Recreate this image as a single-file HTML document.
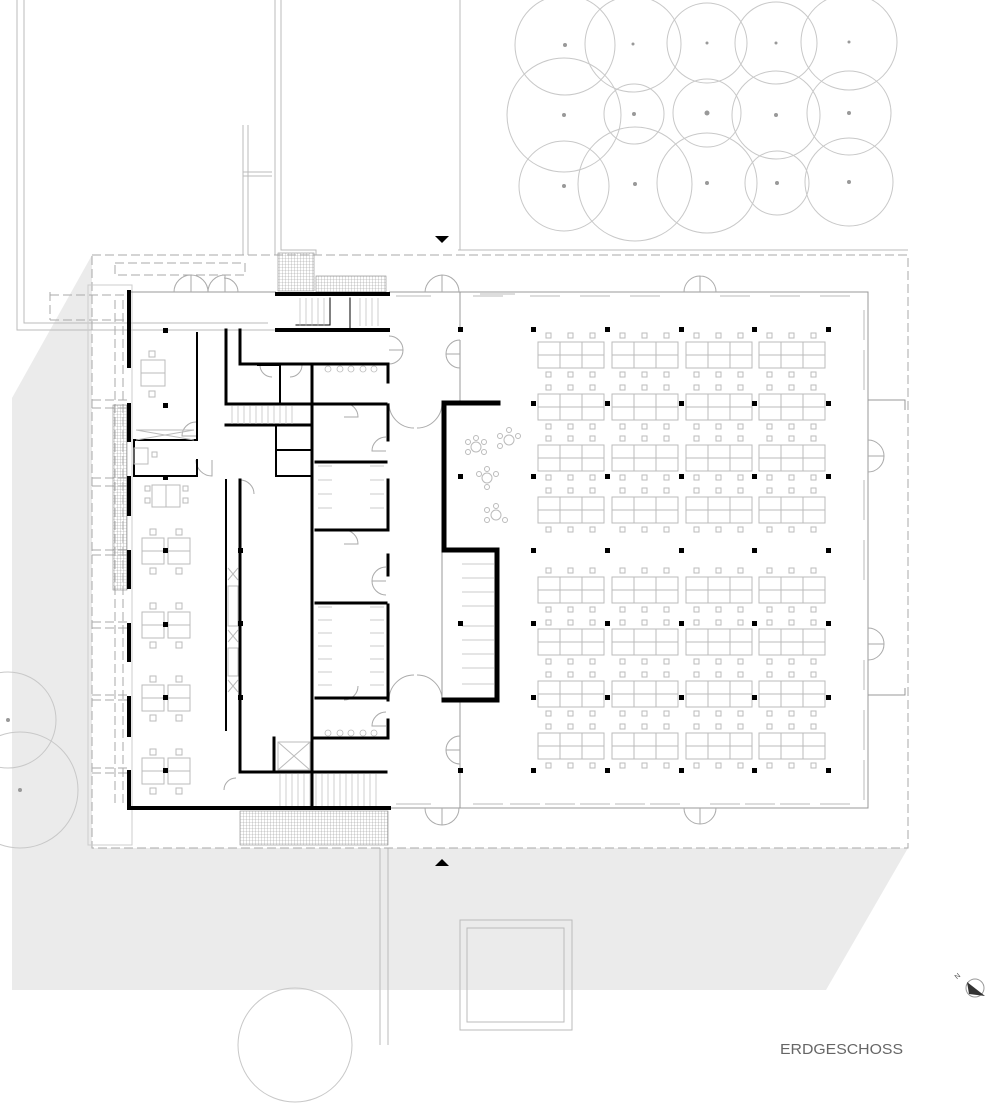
<!DOCTYPE html>
<html><head><meta charset="utf-8"><style>
html,body{margin:0;padding:0;background:#fff}
svg{display:block}
</style></head><body>
<svg width="1000" height="1116" viewBox="0 0 1000 1116" xmlns="http://www.w3.org/2000/svg">
<defs>
<pattern id="hatch" width="3" height="3" patternUnits="userSpaceOnUse">
<path d="M0 0H3M0 0V3" stroke="#999" stroke-width="0.6"/>
</pattern>
<g id="tbl">
<rect x="0" y="0" width="66" height="26" fill="none" stroke="#bbb" stroke-width="1"/>
<path d="M22 0V26M44 0V26M0 13H66" stroke="#bbb" stroke-width="1"/>
<rect x="8" y="-9" width="5" height="5" fill="none" stroke="#bbb"/>
<rect x="30" y="-9" width="5" height="5" fill="none" stroke="#bbb"/>
<rect x="52" y="-9" width="5" height="5" fill="none" stroke="#bbb"/>
<rect x="8" y="30" width="5" height="5" fill="none" stroke="#bbb"/>
<rect x="30" y="30" width="5" height="5" fill="none" stroke="#bbb"/>
<rect x="52" y="30" width="5" height="5" fill="none" stroke="#bbb"/>
</g>
<g id="row">
<use href="#tbl" x="0"/><use href="#tbl" x="74"/><use href="#tbl" x="148"/><use href="#tbl" x="221"/>
</g>
<g id="desk">
<rect x="0" y="0" width="22" height="26" fill="none" stroke="#bbb"/>
<rect x="26" y="0" width="22" height="26" fill="none" stroke="#bbb"/>
<path d="M0 13H22M26 13H48" stroke="#bbb"/>
<rect x="8" y="-9" width="6" height="6" fill="none" stroke="#bbb"/>
<rect x="34" y="-9" width="6" height="6" fill="none" stroke="#bbb"/>
<rect x="8" y="30" width="6" height="6" fill="none" stroke="#bbb"/>
<rect x="34" y="30" width="6" height="6" fill="none" stroke="#bbb"/>
<rect x="21" y="10" width="5" height="5" fill="#000"/>
</g>
</defs>

<polygon points="12,398 92,255 92,848 908,848 826,990 12,990" fill="#ebebeb"/>
<rect x="92" y="255" width="816" height="593" fill="#fff"/>

<g fill="none" stroke="#bbb" stroke-width="1">
<path d="M17 0V330H275M24 0V323H268M275 0V255M281 0V250H316V255"/>
<path d="M460 0V250M458 250H908"/>
<path d="M243 125V255M248 125V255M243 172H272M243 176H272"/>
<path d="M380 848V1045M388 848V1045"/>
<rect x="460" y="920" width="112" height="110"/>
<rect x="467" y="928" width="97" height="94"/>
</g>

<g fill="none" stroke="#c8c8c8" stroke-width="1">
<circle cx="565" cy="45" r="50"/><circle cx="633" cy="44" r="48"/><circle cx="707" cy="43" r="40"/><circle cx="776" cy="43" r="41"/><circle cx="849" cy="42" r="48"/>
<circle cx="564" cy="115" r="57"/><circle cx="634" cy="114" r="30"/><circle cx="707" cy="113" r="34"/><circle cx="776" cy="115" r="44"/><circle cx="849" cy="113" r="42"/>
<circle cx="564" cy="186" r="45"/><circle cx="635" cy="184" r="57"/><circle cx="707" cy="183" r="50"/><circle cx="777" cy="183" r="32"/><circle cx="849" cy="182" r="44"/>
<circle cx="8" cy="720" r="48"/><circle cx="20" cy="790" r="58"/><circle cx="295" cy="1045" r="57"/>
</g>
<g fill="#999">
<circle cx="565" cy="45" r="2"/><circle cx="633" cy="44" r="1.5"/><circle cx="707" cy="43" r="1.5"/><circle cx="776" cy="43" r="1.5"/><circle cx="849" cy="42" r="1.5"/>
<circle cx="564" cy="115" r="2"/><circle cx="634" cy="114" r="2"/><circle cx="707" cy="113" r="2.5"/><circle cx="776" cy="115" r="2"/><circle cx="849" cy="113" r="2"/>
<circle cx="564" cy="186" r="2"/><circle cx="635" cy="184" r="2"/><circle cx="707" cy="183" r="2"/><circle cx="777" cy="183" r="2"/><circle cx="849" cy="182" r="2"/>
<circle cx="8" cy="720" r="2"/><circle cx="20" cy="790" r="2"/>
</g>

<g fill="none" stroke="#aaa" stroke-width="1" stroke-dasharray="9,4">
<rect x="92" y="255" width="816" height="593"/>
<path d="M115 263H245V275H115Z"/>
<path d="M50 295H129M50 320H129M50 292V320"/>
<path d="M92 400H129M92 408H129M92 478H129M92 486H129M92 550H129M92 555H129M92 622H129M92 628H129M92 695H129M92 700H129M92 768H129M92 773H129"/>
<path d="M115 300V805M123 300V805"/>
</g>
<rect x="88" y="285" width="44" height="560" fill="none" stroke="#ccc"/>

<g stroke="#888" stroke-width="0.6">
<rect x="278" y="253" width="36" height="38" fill="url(#hatch)"/>
<rect x="316" y="276" width="70" height="16" fill="url(#hatch)"/>
<rect x="240" y="811" width="148" height="34" fill="url(#hatch)"/>
<rect x="113" y="405" width="14" height="185" fill="url(#hatch)"/>
</g>

<g fill="none" stroke="#999" stroke-width="1">
<path d="M460 292H868V808H460"/>
<path d="M868 400H905V410M868 695H905V688"/>
<path d="M905 400V410M905 688V695"/>
<path d="M129 292H276M389 292H460M389 808H460"/>
<path d="M460 292V330M460 340V403M460 700V808"/>
<path d="M442 550V700"/>
</g>
<g fill="none" stroke="#bbb" stroke-width="1">
<path d="M473 296h30M530 296h30M580 296h30M630 296h30M720 296h30M770 296h30M820 296h30"/>
<path d="M473 804h30M510 804h30M545 804h30M580 804h30M615 804h30M650 804h30M710 804h30M745 804h30M780 804h30M820 804h30"/>
<path d="M864 310v30M864 350v40M864 480v40M864 540v40M864 660v30M864 710v40M864 760v40"/>
<path d="M396 296h35M396 804h35M480 294h35"/>
</g>
<g fill="none" stroke="#aaa" stroke-width="1">
<path d="M174 292a17 17 0 0 1 17 -17V292M208 292a17 17 0 0 0 -17 -17M208 292a17 17 0 0 1 17 -17V292M238 292a14 14 0 0 0 -14 -14"/>
<path d="M425 292a18 18 0 0 1 17 -17V292M459 292a17 17 0 0 0 -17 -17"/>
<path d="M684 292a16 16 0 0 1 16 -16V292M716 292a16 16 0 0 0 -16 -16"/>
<path d="M684 808a16 16 0 0 0 16 16V808M716 808a16 16 0 0 1 -16 16"/>
<path d="M425 808a17 17 0 0 0 17 17V808M459 808a17 17 0 0 1 -17 17"/>
<path d="M868 440a16 16 0 0 1 16 16H868M868 472a16 16 0 0 0 16 -16"/>
<path d="M868 628a16 16 0 0 1 16 16H868M868 660a16 16 0 0 0 16 -16"/>
<path d="M460 340a14 14 0 0 0 -14 14H460M460 368a14 14 0 0 1 -14 -14"/>
<path d="M460 736a14 14 0 0 0 -14 14H460M460 764a14 14 0 0 1 -14 -14"/>
<path d="M389 336a14 14 0 0 1 14 14H389M389 364a14 14 0 0 0 14 -14"/>
<path d="M389 403a25 25 0 0 0 25 25M442 403a25 25 0 0 1 -25 25"/>
<path d="M389 700a25 25 0 0 1 25 -25M442 700a25 25 0 0 0 -25 -25"/>
<path d="M386 567a14 14 0 0 0 -14 14H386M386 595a14 14 0 0 1 -14 -14"/>
<path d="M386 712a14 14 0 0 0 -14 14H386"/>
<path d="M386 437a14 14 0 0 0 -14 14H386"/>
<path d="M196 422a14 14 0 0 0 -14 14H196M196 460a16 16 0 0 0 16 16V460"/>
<path d="M240 480a14 14 0 0 1 14 14M224 790a12 12 0 0 1 12 -12"/>
<path d="M344 403a14 14 0 0 1 14 14H344M344 530a14 14 0 0 1 14 14H344M344 700a14 14 0 0 0 14 -14"/>
<path d="M260 365a12 12 0 0 0 12 12M302 365a12 12 0 0 1 -12 12"/>
</g>

<g stroke="#000" fill="none" stroke-linecap="square">
<path stroke-width="4" d="M129 292V366M129 405V440M129 478V514M129 552V587M129 625V660M129 698V735M129 772V808H389"/>
<path stroke-width="4" d="M277 294H388M277 330H388"/>
<path stroke-width="3" d="M226 330V404H312M226 425H312M240 330V364H312V808M312 364H388M388 364V382M388 405V440M388 480V530M388 555V575M388 605V700M388 720V738M313 404H386M316 462H386M316 530H386M316 603H386M316 698H386M313 738H386"/>
<path stroke-width="3" d="M240 480V772H386M274 738V772H312"/>
<path stroke-width="2" d="M197 333V440H134M134 476H197V460M134 440V476"/>
<path stroke-width="2" d="M226 480V730M276 425V476H312M276 450H312M258 365H280V403"/>
<path stroke-width="1" d="M330 298V325H296M350 298V330"/>
<path stroke-width="5" d="M444 403H498M444 403V550H497V700H444"/>
</g>
<g stroke="#bbb" stroke-width="0.7">
<path d="M300 298V326M306 298V326M312 298V326M318 298V326M324 298V326M360 298V326M366 298V326M372 298V326M378 298V326"/>
<path d="M232 406V424M238 406V424M244 406V424M250 406V424M256 406V424M262 406V424M268 406V424M274 406V424M280 406V424M286 406V424M292 406V424"/>
<path d="M280 774V806M286 774V806M292 774V806M298 774V806M304 774V806M310 774V806M316 774V806M322 774V806M328 774V806M334 774V806M340 774V806M346 774V806M352 774V806M358 774V806M364 774V806M370 774V806M376 774V806"/>
<path d="M462 564h32M462 578h32M462 592h32M462 606h32M462 626h32M462 640h32M462 654h32M462 668h32M462 684h32"/>
</g>
<g fill="none" stroke="#bbb" stroke-width="1">
<rect x="228" y="586" width="10" height="40"/><rect x="228" y="648" width="10" height="28"/>
<path d="M228 568l10 12M238 568l-10 12M228 630l10 12M238 630l-10 12M228 680l10 12M238 680l-10 12"/>
<rect x="278" y="742" width="32" height="28"/><path d="M278 742l32 28M310 742l-32 28"/>
<path d="M136 430h58M136 440l58-10M136 430l58 10"/>
</g>
<g fill="none" stroke="#bbb" stroke-width="0.8">
<circle cx="328" cy="369" r="3"/><circle cx="340" cy="369" r="3"/><circle cx="351" cy="369" r="3"/><circle cx="363" cy="369" r="3"/><circle cx="374" cy="369" r="3"/>
<circle cx="328" cy="733" r="3"/><circle cx="340" cy="733" r="3"/><circle cx="351" cy="733" r="3"/><circle cx="363" cy="733" r="3"/><circle cx="374" cy="733" r="3"/>
<path d="M318 466h14M318 480h14M318 494h14M318 508h14M370 466h14M370 480h14M370 494h14M370 508h14"/>
<path d="M318 607h14M318 620h14M318 633h14M318 646h14M318 659h14M318 672h14M318 685h14M370 607h14M370 620h14M370 633h14M370 646h14M370 659h14M370 672h14M370 685h14"/>
</g>
<g fill="none" stroke="#bbb">
<rect x="141" y="360" width="24" height="26"/><rect x="141" y="373" width="24" height="13"/>
<rect x="149" y="351" width="6" height="6"/><rect x="149" y="391" width="6" height="6"/>
<rect x="134" y="448" width="14" height="16"/><rect x="152" y="452" width="5" height="5"/>
<rect x="152" y="485" width="28" height="22"/><path d="M166 485v22"/>
<rect x="145" y="486" width="5" height="5"/><rect x="145" y="498" width="5" height="5"/><rect x="183" y="486" width="5" height="5"/><rect x="183" y="498" width="5" height="5"/>
</g>
<use href="#desk" x="142" y="538"/>
<use href="#desk" x="142" y="612"/>
<use href="#desk" x="142" y="685"/>
<use href="#desk" x="142" y="758"/>
<g fill="none" stroke="#bbb">
<circle cx="476" cy="447" r="5"/><circle cx="468" cy="442" r="2.5"/><circle cx="484" cy="442" r="2.5"/><circle cx="468" cy="452" r="2.5"/><circle cx="484" cy="452" r="2.5"/><circle cx="476" cy="438" r="2.5"/>
<circle cx="509" cy="440" r="5"/><circle cx="500" cy="436" r="2.5"/><circle cx="518" cy="436" r="2.5"/><circle cx="509" cy="430" r="2.5"/><circle cx="500" cy="446" r="2.5"/>
<circle cx="487" cy="478" r="5"/><circle cx="479" cy="474" r="2.5"/><circle cx="496" cy="474" r="2.5"/><circle cx="487" cy="469" r="2.5"/><circle cx="487" cy="487" r="2.5"/>
<circle cx="496" cy="515" r="5"/><circle cx="487" cy="510" r="2.5"/><circle cx="487" cy="520" r="2.5"/><circle cx="496" cy="506" r="2.5"/><circle cx="505" cy="520" r="2.5"/>
</g>

<use href="#row" x="538" y="342"/><use href="#row" x="538" y="394"/><use href="#row" x="538" y="445"/><use href="#row" x="538" y="497"/>
<use href="#row" x="538" y="577"/><use href="#row" x="538" y="629"/><use href="#row" x="538" y="681"/><use href="#row" x="538" y="733"/>

<g fill="#000">
<rect x="531" y="327" width="5" height="5"/><rect x="605" y="327" width="5" height="5"/><rect x="679" y="327" width="5" height="5"/><rect x="752" y="327" width="5" height="5"/><rect x="826" y="327" width="5" height="5"/>
<rect x="531" y="401" width="5" height="5"/><rect x="605" y="401" width="5" height="5"/><rect x="679" y="401" width="5" height="5"/><rect x="752" y="401" width="5" height="5"/><rect x="826" y="401" width="5" height="5"/>
<rect x="531" y="474" width="5" height="5"/><rect x="605" y="474" width="5" height="5"/><rect x="679" y="474" width="5" height="5"/><rect x="752" y="474" width="5" height="5"/><rect x="826" y="474" width="5" height="5"/>
<rect x="531" y="548" width="5" height="5"/><rect x="605" y="548" width="5" height="5"/><rect x="679" y="548" width="5" height="5"/><rect x="752" y="548" width="5" height="5"/><rect x="826" y="548" width="5" height="5"/>
<rect x="531" y="621" width="5" height="5"/><rect x="605" y="621" width="5" height="5"/><rect x="679" y="621" width="5" height="5"/><rect x="752" y="621" width="5" height="5"/><rect x="826" y="621" width="5" height="5"/>
<rect x="531" y="695" width="5" height="5"/><rect x="605" y="695" width="5" height="5"/><rect x="679" y="695" width="5" height="5"/><rect x="752" y="695" width="5" height="5"/><rect x="826" y="695" width="5" height="5"/>
<rect x="531" y="768" width="5" height="5"/><rect x="605" y="768" width="5" height="5"/><rect x="679" y="768" width="5" height="5"/><rect x="752" y="768" width="5" height="5"/><rect x="826" y="768" width="5" height="5"/>
<rect x="458" y="327" width="5" height="5"/><rect x="458" y="474" width="5" height="5"/><rect x="458" y="621" width="5" height="5"/><rect x="458" y="768" width="5" height="5"/>
<rect x="163" y="328" width="5" height="5"/><rect x="163" y="403" width="5" height="5"/><rect x="163" y="475" width="5" height="5"/><rect x="238" y="548" width="5" height="5"/><rect x="238" y="621" width="5" height="5"/><rect x="238" y="695" width="5" height="5"/>
</g>

<polygon points="435,236 449,236 442,243" fill="#000"/>
<polygon points="435,866 449,866 442,859" fill="#000"/>
<circle cx="975" cy="988" r="9" fill="none" stroke="#999"/>
<polygon points="967,982 985,996 969,994" fill="#333"/>
<text x="955" y="978" font-family="Liberation Sans, sans-serif" font-size="7" fill="#555" transform="rotate(-40 958 976)">N</text>

<text x="780" y="1054" font-family="Liberation Sans, sans-serif" font-size="15" fill="#666" textLength="123" lengthAdjust="spacingAndGlyphs">ERDGESCHOSS</text>
</svg>
</body></html>
